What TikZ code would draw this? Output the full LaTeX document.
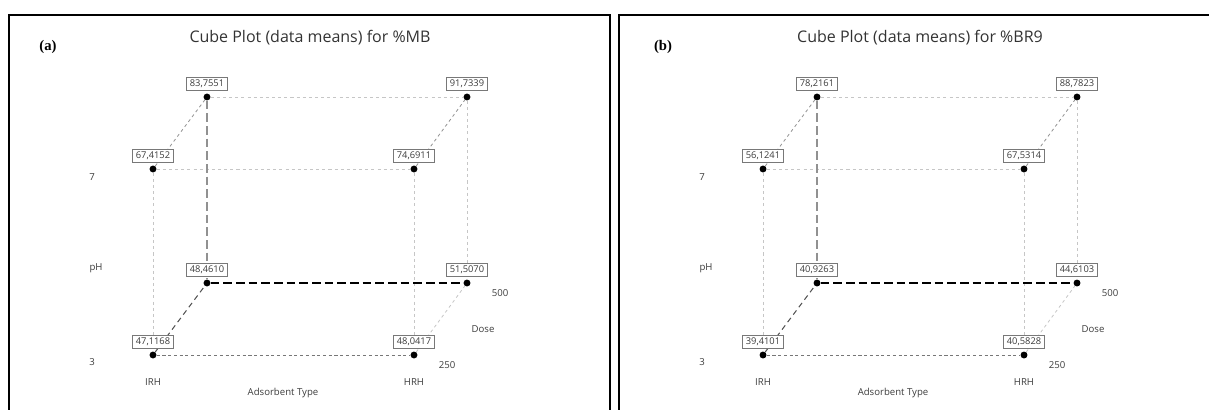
\documentclass[tikz,border=0pt]{standalone}
\usepackage{fontspec}
\setmainfont{Open Sans}
\newfontfamily\tagfont{Liberation Serif}
\usetikzlibrary{positioning}

\definecolor{lightdash}{RGB}{198,198,198}
\definecolor{middash}{RGB}{145,145,145}
\definecolor{darkdash}{RGB}{85,85,85}
\definecolor{axistext}{RGB}{60,60,60}
\definecolor{boxline}{RGB}{120,120,120}

\tikzset{
  dot/.style={circle,fill=black,inner sep=0pt,minimum size=5.2pt},
  valbox/.style={draw=boxline,fill=white,line width=0.6pt,text=axistext,
    font=\fontsize{7}{8}\selectfont,inner xsep=2.4pt,inner ysep=1.8pt},
  axislabel/.style={text=axistext,font=\fontsize{7.2}{8}\selectfont},
  plottitle/.style={text=black!80,font=\fontsize{12}{14}\selectfont},
  paneltag/.style={font=\tagfont\bfseries\fontsize{11}{12}\selectfont},
  frameline/.style={line width=1.4pt},
  faintedge/.style={lightdash,line width=0.6pt,dash pattern=on 2.3pt off 2.3pt},
  sideedge/.style={middash,line width=0.6pt,dash pattern=on 2.3pt off 2.3pt},
  frontedge/.style={darkdash!80,line width=0.6pt,dash pattern=on 2.3pt off 2pt},
  backpole/.style={middash,line width=0.8pt,dash pattern=on 6.5pt off 3pt},
  backfloor/.style={black,line width=1.1pt,dash pattern=on 6.5pt off 3pt},
  backslope/.style={darkdash,line width=0.8pt,dash pattern=on 4pt off 3pt}
}

\begin{document}
\begin{tikzpicture}[x=0.75pt,y=-0.75pt]
	\clip (0,0) rectangle (1209,410);
	
	% panel (a)
	\draw[frameline] (9,430) |- (610,15) -- (610,430);
	\node[paneltag] (atag) at (48,47) {(a)};
	\node[plottitle] (atitle) at (310,38) {Cube Plot (data means) for \%MB};
	
	\node[dot] (a000) at (153,355) {};
	\node[dot] (a100) at (414,355) {};
	\node[dot] (a001) at (207,283) {};
	\node[dot] (a101) at (467,283) {};
	\node[dot] (a010) at (153,169) {};
	\node[dot] (a110) at (414,169) {};
	\node[dot] (a011) at (207,97) {};
	\node[dot] (a111) at (467,97) {};
	
	\draw[faintedge] (a011) -- (a111);
	\draw[faintedge] (a010) -- (a110);
	\draw[faintedge] (a010) -- (a000);
	\draw[faintedge] (a110) -- (a100);
	\draw[faintedge] (a111) -- (a101);
	\draw[faintedge] (a100) -- (a101);
	\draw[sideedge] (a010) -- (a011);
	\draw[sideedge] (a110) -- (a111);
	\draw[frontedge] (a000) -- (a100);
	\draw[backpole] (a011) -- (a001);
	\draw[backslope] (a000) -- (a001);
	\draw[backfloor] (a001) -- (a101);
	
	\node[valbox,above=2pt of a000] (v000) {47,1168};
	\node[valbox,above=2pt of a100] (v100) {48,0417};
	\node[valbox,above=2pt of a001] (v001) {48,4610};
	\node[valbox,above=2pt of a101] (v101) {51,5070};
	\node[valbox,above=2pt of a010] (v010) {67,4152};
	\node[valbox,above=2pt of a110] (v110) {74,6911};
	\node[valbox,above=2pt of a011] (v011) {83,7551};
	\node[valbox,above=2pt of a111] (v111) {91,7339};
	
	\node[axislabel] (aph7) at (92,177) {7};
	\node[axislabel] (aph) at (96,268) {pH};
	\node[axislabel] (aph3) at (92,362) {3};
	\node[axislabel] (airh) at (153,382) {IRH};
	\node[axislabel] (ahrh) at (414,382) {HRH};
	\node[axislabel] (atype) at (283,393) {Adsorbent Type};
	\node[axislabel] (ad500) at (500,293) {500};
	\node[axislabel] (adose) at (483,329) {Dose};
	\node[axislabel] (ad250) at (447,365) {250};
	
	% panel (b)
	\begin{scope}[shift={(610,0)}]
	\draw[frameline] (9,430) |- (620,15) -- (620,430);
	\node[paneltag] (btag) at (53,47) {(b)};
	\node[plottitle] (btitle) at (310,38) {Cube Plot (data means) for \%BR9};
	
	\node[dot] (b000) at (153,355) {};
	\node[dot] (b100) at (414,355) {};
	\node[dot] (b001) at (207,283) {};
	\node[dot] (b101) at (467,283) {};
	\node[dot] (b010) at (153,169) {};
	\node[dot] (b110) at (414,169) {};
	\node[dot] (b011) at (207,97) {};
	\node[dot] (b111) at (467,97) {};
	
	\draw[faintedge] (b011) -- (b111);
	\draw[faintedge] (b010) -- (b110);
	\draw[faintedge] (b010) -- (b000);
	\draw[faintedge] (b110) -- (b100);
	\draw[faintedge] (b111) -- (b101);
	\draw[faintedge] (b100) -- (b101);
	\draw[sideedge] (b010) -- (b011);
	\draw[sideedge] (b110) -- (b111);
	\draw[frontedge] (b000) -- (b100);
	\draw[backpole] (b011) -- (b001);
	\draw[backslope] (b000) -- (b001);
	\draw[backfloor] (b001) -- (b101);
	
	\node[valbox,above=2pt of b000] (w000) {39,4101};
	\node[valbox,above=2pt of b100] (w100) {40,5828};
	\node[valbox,above=2pt of b001] (w001) {40,9263};
	\node[valbox,above=2pt of b101] (w101) {44,6103};
	\node[valbox,above=2pt of b010] (w010) {56,1241};
	\node[valbox,above=2pt of b110] (w110) {67,5314};
	\node[valbox,above=2pt of b011] (w011) {78,2161};
	\node[valbox,above=2pt of b111] (w111) {88,7823};
	
	\node[axislabel] (bph7) at (92,177) {7};
	\node[axislabel] (bph) at (96,268) {pH};
	\node[axislabel] (bph3) at (92,362) {3};
	\node[axislabel] (birh) at (153,382) {IRH};
	\node[axislabel] (bhrh) at (414,382) {HRH};
	\node[axislabel] (btype) at (283,393) {Adsorbent Type};
	\node[axislabel] (bd500) at (500,293) {500};
	\node[axislabel] (bdose) at (483,329) {Dose};
	\node[axislabel] (bd250) at (447,365) {250};
	\end{scope}
	
\end{tikzpicture}
\end{document}
